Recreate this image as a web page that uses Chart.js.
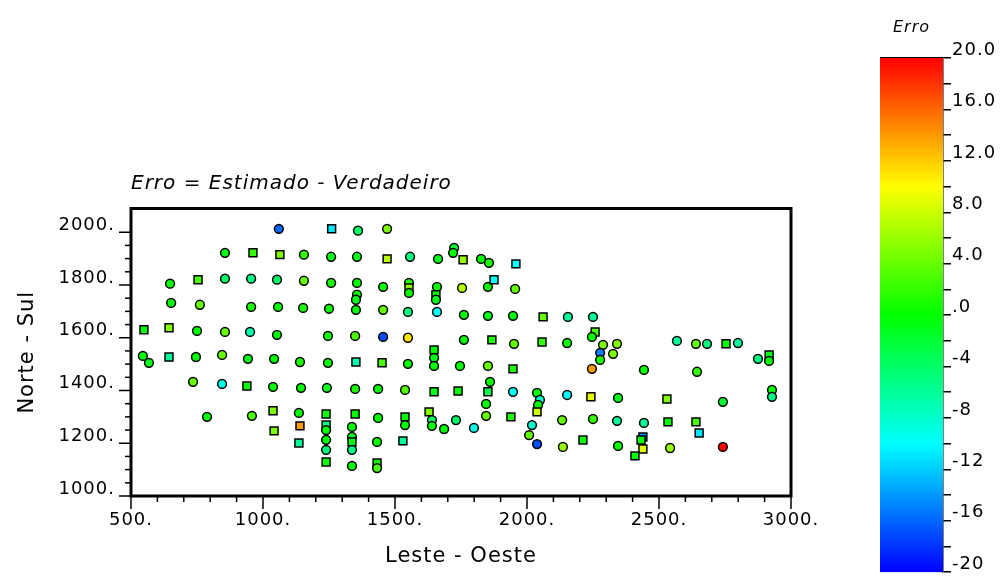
<!DOCTYPE html>
<html>
<head>
<meta charset="utf-8">
<script src="https://cdn.jsdelivr.net/npm/chart.js@4.4.1/dist/chart.umd.min.js"></script>
<style>
html,body{margin:0;padding:0;background:#fff;}
#wrap{position:relative;width:1005px;height:584px;overflow:hidden;background:#fff;}
#main{position:absolute;left:0;top:0;}
#bar{position:absolute;left:870px;top:0;}
</style>
</head>
<body>
<div id="wrap">
<canvas id="main" width="1005" height="584"></canvas>
<canvas id="bar" width="135" height="584"></canvas>
</div>
<script>
// ---- data (Leste-Oeste, Norte-Sul, Erro, sample group) ----
const eastWest = [1060,1260,1360,1470, 856,962,1064,1155,1258,1356,1470,1557,1663,1724,1720,1758,1826,1856,1958,
  648,754,856,955,1053,1155,1258,1356,1356,1352,1352,1455,1553,1553,1553,1659,1655,1655,1754,1852,1875,1955,
  652,761,955,1057,1152,1250,1455,1549,1659,1761,1852,1947,2061,2155,2250,
  549,644,750,856,951,1053,1246,1349,1455,1549,1648,1648,1648,1761,1867,1951,2057,2152,2258,2246,2288,2341,2277,2326,2277,2568,2640,2682,2754,2799,2875,2917,2917,
  545,568,644,746,845,943,1042,1140,1246,1352,1451,1549,1746,1852,1947,2246,2443,2644,
  735,845,939,1038,1144,1242,1349,1436,1538,1648,1739,1860,1852,1947,2038,2049,2152,2242,2345,2530,2742,2928,2928,
  788,958,1038,1136,1239,1349,1436,1538,1629,1640,1640,1686,1731,1799,1845,1845,1939,2042,2038,2019,2008,2038,2133,2136,2250,2341,2443,2534,2640,2652,
  1042,1140,1136,1239,1239,1239,1239,1239,1337,1337,1337,1337,1337,1432,1432,1432,1530,1538,
  2212,2345,2439,2432,2439,2409,2542,2742];
const northSouth = [2013,2013,2006,2013, 1922,1922,1915,1915,1907,1907,1899,1907,1899,1941,1922,1896,1899,1884,1880,
  1805,1820,1824,1824,1820,1816,1808,1808,1763,1744,1706,1793,1808,1789,1770,1793,1763,1744,1789,1793,1820,1785,
  1732,1725,1717,1717,1713,1710,1706,1698,1698,1687,1683,1683,1679,1679,1679,
  1630,1638,1626,1622,1622,1611,1607,1607,1603,1600,1554,1524,1493,1592,1592,1577,1584,1580,1622,1603,1573,1577,1543,1539,1516,1588,1577,1577,1577,1580,1520,1535,1512,
  1531,1505,1527,1527,1535,1520,1520,1508,1505,1508,1505,1501,1493,1493,1482,1482,1478,1471,
  1433,1425,1417,1414,1410,1410,1406,1406,1402,1395,1398,1433,1395,1395,1391,1364,1383,1376,1372,1368,1357,1402,1376,
  1300,1304,1323,1315,1311,1311,1296,1300,1319,1288,1266,1254,1288,1258,1349,1304,1300,1345,1319,1269,1231,1197,1288,1186,1292,1285,1277,1281,1281,1239,
  1247,1266,1201,1269,1250,1213,1175,1129,1262,1224,1205,1175,1114,1205,1125,1106,1209,1269,
  1212,1190,1224,1212,1178,1152,1182,1186];
const errorValues = [-16,-11,-4,5, -1,2,5,2,-1,-1,7,-5,-1,-2,0,6,0,1,-10,
  0,3,-4,-5,-4,4,1,0,0,-1,0,0,1,6,0,0,0,-1,7,0,-10,4,
  0,4,1,0,1,0,4,-5,-10,0,-1,0,4,-6,-6,
  0,5,0,4,-7,0,0,3,-17,11,0,-1,0,0,1,4,2,0,3,0,5,5,-15,5,1,-6,4,-5,0,-6,-5,-1,0,
  0,-1,-6,0,4,-1,0,1,0,-7,3,0,0,4,1,14,0,2,
  4,-9,0,0,0,-1,1,0,3,-1,0,0,-3,-10,0,-8,-10,9,-1,5,-2,0,-5,
  0,3,5,0,0,0,0,0,5,-4,0,0,-4,-9,0,4,1,0,8,-8,4,-17,4,6,2,-6,-6,0,3,-11,
  5,14,-6,-5,0,0,-5,0,0,-1,0,-5,0,0,0,3,-6,0,
  0,0,-14,0,9,0,6,20];
const sampleGroup = ['A','B','A','A', 'A','B','B','A','A','A','B','A','A','A','A','B','A','A','B',
  'A','B','A','A','A','A','A','A','A','A','A','A','A','B','A','A','B','A','A','A','B','A',
  'A','A','A','A','A','A','A','A','A','A','A','A','B','A','A',
  'B','B','A','A','A','A','A','A','A','A','B','A','A','A','B','A','B','A','B','A','A','A','A','A','A','A','A','A','B','A','A','B','A',
  'A','A','B','A','A','A','A','A','A','B','B','A','A','A','B','A','A','A',
  'A','A','B','A','A','A','A','A','A','B','B','A','B','A','A','A','A','B','A','B','A','A','A',
  'A','A','B','A','B','B','A','B','B','A','A','A','A','A','A','A','B','A','B','A','A','A','A','A','A','A','A','B','B','B',
  'B','B','B','B','A','A','A','B','A','A','B','A','A','A','B','A','B','A',
  'B','A','B','B','B','B','A','A'];

// ---- tick labels ----
const xTickValues = [500,1000,1500,2000,2500,3000];
const xTickLabels = ['500.','1000.','1500.','2000.','2500.','3000.'];
const yTickValues = [1000,1200,1400,1600,1800,2000];
const yTickLabels = ['1000.','1200.','1400.','1600.','1800.','2000.'];
const barTickValues = [20,16,12,8,4,0,-4,-8,-12,-16,-20];
const barTickLabels = ['20.0','16.0','12.0','8.0','4.0','.0','-4','-8','-12','-16','-20'];

const chartTitle = 'Erro = Estimado - Verdadeiro';
const xTitle = 'Leste - Oeste';
const yTitle = 'Norte - Sul';
const barTitle = 'Erro';

// ---- styling ----
const FONT = "'DejaVu Sans', sans-serif";
const ERR_MIN = -20, ERR_MAX = 20;
function errColor(v){
  const c = Math.max(ERR_MIN, Math.min(ERR_MAX, v));
  const h = (ERR_MAX - c) / (ERR_MAX - ERR_MIN) * 240;
  return 'hsl(' + h + ',100%,50%)';
}
function labelFrom(values, labels){
  return v => { const i = values.indexOf(v); return i < 0 ? '' : labels[i]; };
}
const spacing = {
  id: 'spacing',
  beforeUpdate(c){ c.ctx.letterSpacing = '1px'; },
  beforeLayout(c){ c.ctx.letterSpacing = '1px'; },
  beforeDraw(c){ c.ctx.letterSpacing = '1px'; }
};
const frameTicks = {
  id: 'frameTicks',
  afterDraw(chart){
    const {ctx, chartArea: a, scales: {x, y}} = chart;
    ctx.save();
    ctx.strokeStyle = '#000';
    ctx.lineWidth = 1.5;
    x.ticks.forEach(t => {
      if (t.value % 100 !== 0) return;
      const px = x.getPixelForValue(t.value);
      const len = xTickValues.includes(t.value) ? 13 : 6;
      ctx.beginPath(); ctx.moveTo(px, a.bottom); ctx.lineTo(px, a.bottom + len); ctx.stroke();
    });
    y.ticks.forEach(t => {
      if (t.value % 50 !== 0) return;
      const py = y.getPixelForValue(t.value);
      const len = yTickValues.includes(t.value) ? 12 : 6;
      ctx.beginPath(); ctx.moveTo(a.left - len, py); ctx.lineTo(a.left, py); ctx.stroke();
    });
    ctx.lineWidth = 3;
    ctx.strokeRect(a.left, a.top, a.right - a.left, a.bottom - a.top);
    ctx.restore();
  }
};

new Chart(document.getElementById('main'), {
  type: 'scatter',
  data: {
    datasets: [{
      data: eastWest.map((x, i) => ({x: x, y: northSouth[i]})),
      pointStyle: c => sampleGroup[c.dataIndex] === 'B' ? 'rect' : 'circle',
      pointRadius: c => sampleGroup[c.dataIndex] === 'B' ? 5.6 : 4.4,
      pointHoverRadius: c => sampleGroup[c.dataIndex] === 'B' ? 5.6 : 4.4,
      pointBackgroundColor: c => errColor(errorValues[c.dataIndex]),
      pointBorderColor: '#000',
      pointBorderWidth: 1.5
    }]
  },
  options: {
    responsive: false,
    animation: false,
    devicePixelRatio: 1,
    events: [],
    layout: {padding: {left: 0, top: 0, right: 214, bottom: 0}},
    plugins: {
      legend: {display: false},
      tooltip: {enabled: false},
      title: {
        display: true, text: chartTitle, align: 'start', fullSize: false, color: '#000',
        font: {family: FONT, size: 20, style: 'italic', weight: 'normal'},
        padding: {top: 172, bottom: 12.5}
      }
    },
    scales: {
      x: {
        type: 'linear', position: 'bottom', min: 500, max: 3000,
        grid: {display: false, drawTicks: false},
        border: {display: false},
        ticks: {stepSize: 100, autoSkip: false, maxRotation: 0, padding: 14, color: '#000',
          font: {family: FONT, size: 18}, callback: labelFrom(xTickValues, xTickLabels)},
        title: {display: true, text: xTitle, color: '#000', font: {family: FONT, size: 21},
          padding: {top: 0, bottom: 15}},
        afterFit: s => { s.height = 88; }
      },
      y: {
        type: 'linear', position: 'left', min: 1000, max: 2090,
        grid: {display: false, drawTicks: false},
        border: {display: false},
        ticks: {stepSize: 50, autoSkip: false, padding: 16, labelOffset: -7, color: '#000',
          font: {family: FONT, size: 18}, callback: labelFrom(yTickValues, yTickLabels)},
        title: {display: true, text: yTitle, color: '#000', font: {family: FONT, size: 21},
          padding: {top: 15, bottom: 0}},
        afterFit: s => { s.width = 131; }
      }
    }
  },
  plugins: [spacing, frameTicks]
});

new Chart(document.getElementById('bar'), {
  type: 'bar',
  data: {
    labels: [''],
    datasets: [{
      data: [[ERR_MIN, ERR_MAX]],
      barPercentage: 1, categoryPercentage: 1, borderWidth: 0,
      backgroundColor: c => {
        const ch = c.chart;
        if (!ch.chartArea) return 'rgba(0,0,0,0)';
        const ys = ch.scales.y;
        const g = ch.ctx.createLinearGradient(0, ys.getPixelForValue(ERR_MIN), 0, ys.getPixelForValue(ERR_MAX));
        for (let k = 0; k <= 8; k++) {
          g.addColorStop(k / 8, errColor(ERR_MIN + k * (ERR_MAX - ERR_MIN) / 8));
        }
        return g;
      }
    }]
  },
  options: {
    responsive: false,
    animation: false,
    devicePixelRatio: 1,
    events: [],
    layout: {padding: {left: 10, top: 0, right: 0, bottom: 6}},
    plugins: {
      legend: {display: false},
      tooltip: {enabled: false},
      title: {
        display: true, text: barTitle, align: 'center', fullSize: false, color: '#000',
        font: {family: FONT, size: 16, style: 'italic', weight: 'normal'},
        padding: {top: 18, bottom: 20.8}
      }
    },
    scales: {
      x: {display: false},
      y: {
        position: 'right', min: ERR_MIN, max: ERR_MAX,
        grid: {
          drawOnChartArea: true,
          color: c => (c.tick && c.tick.value === ERR_MAX) ? '#000' : 'rgba(0,0,0,0)',
          lineWidth: 1.5,
          tickColor: '#000', tickLength: 8, tickWidth: 1.5
        },
        border: {display: true, color: '#000', width: 1.5},
        ticks: {stepSize: 2, autoSkip: false, padding: 1, labelOffset: -8, color: '#000',
          font: {family: FONT, size: 18}, callback: labelFrom(barTickValues, barTickLabels)},
        afterFit: s => { s.width = 62; }
      }
    }
  },
  plugins: [spacing]
});
</script>
</body>
</html>
